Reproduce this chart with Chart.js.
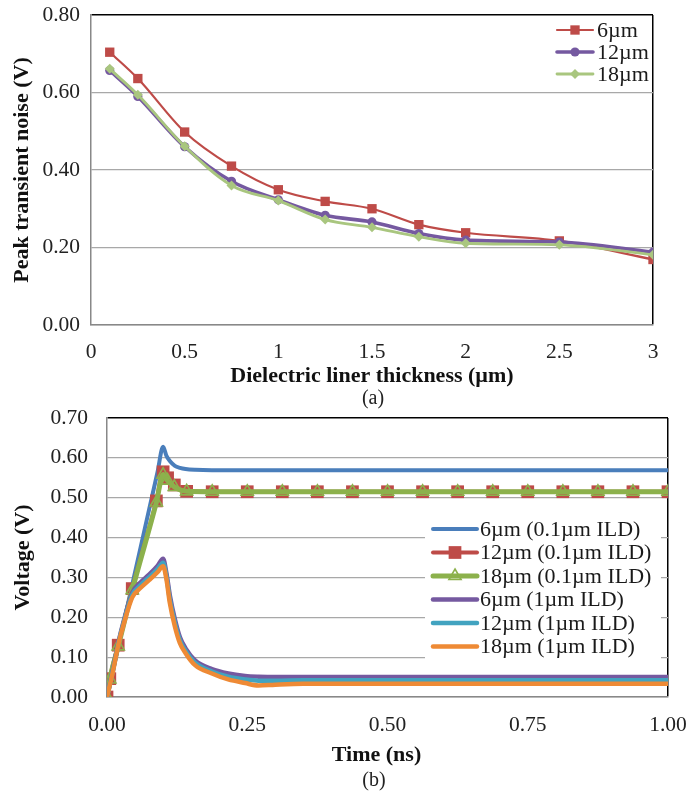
<!DOCTYPE html>
<html><head><meta charset="utf-8">
<script src="https://cdn.jsdelivr.net/npm/chart.js@4.4.1/dist/chart.umd.min.js"></script>
<style>
html,body{margin:0;padding:0;background:#fff;}
body{width:694px;height:794px;position:relative;overflow:hidden;font-family:"Liberation Serif","Times New Roman",serif;}
canvas{position:absolute;left:0;}
#c1{top:0}
#c2{top:400px}
.cap{position:absolute;font-size:20px;color:#222;width:100px;text-align:center;line-height:20px;}
</style></head><body>
<canvas id="c1" width="694" height="390"></canvas>
<canvas id="c2" width="694" height="370"></canvas>
<div class="cap" style="left:323px;top:387px">(a)</div>
<div class="cap" style="left:324px;top:769px">(b)</div>
<script>
// ---------- Chart (a) data ----------
const linerThickness = [0.1, 0.25, 0.5, 0.75, 1, 1.25, 1.5, 1.75, 2, 2.5, 3];
const noise6um  = [0.704, 0.636, 0.498, 0.410, 0.349, 0.319, 0.300, 0.259, 0.238, 0.217, 0.169];
const noise12um = [0.657, 0.590, 0.460, 0.371, 0.323, 0.283, 0.266, 0.236, 0.219, 0.214, 0.188];
const noise18um = [0.661, 0.594, 0.461, 0.360, 0.321, 0.272, 0.252, 0.228, 0.211, 0.207, 0.181];
const aXTicks = [0, 0.5, 1, 1.5, 2, 2.5, 3];
const aXTickLabels = ['0', '0.5', '1', '1.5', '2', '2.5', '3'];
const aYTicks = [0, 0.2, 0.4, 0.6, 0.8];
const aLabels = ['6µm', '12µm', '18µm'];

// ---------- Chart (b) data ----------
const markerTime = [0, 0.005, 0.02, 0.045, 0.088, 0.1, 0.108, 0.12, 0.142, 0.1875, 0.25, 0.3125, 0.375, 0.4375, 0.5, 0.5625, 0.625, 0.6875, 0.75, 0.8125, 0.875, 0.9375, 1.0];
const v12um_01 = [0, 0.046, 0.130, 0.272, 0.492, 0.565, 0.550, 0.532, 0.516, 0.515, 0.515, 0.515, 0.515, 0.515, 0.515, 0.515, 0.515, 0.515, 0.515, 0.515, 0.515, 0.515, 0.515];
const v18um_01 = [0, 0.044, 0.127, 0.268, 0.488, 0.558, 0.543, 0.527, 0.516, 0.515, 0.515, 0.515, 0.515, 0.515, 0.515, 0.515, 0.515, 0.515, 0.515, 0.515, 0.515, 0.515, 0.515];
const curveTime = [0, 0.01, 0.02, 0.03, 0.045, 0.06, 0.075, 0.09, 0.1, 0.106, 0.112, 0.121, 0.13, 0.14, 0.157, 0.187, 0.216, 0.246, 0.27, 0.3, 0.35, 0.5, 0.75, 1.0];
const v6um_01  = [0, 0.062, 0.125, 0.188, 0.282, 0.376, 0.470, 0.564, 0.628, 0.605, 0.592, 0.580, 0.575, 0.572, 0.570, 0.569, 0.569, 0.569, 0.569, 0.569, 0.569, 0.569, 0.569, 0.569];
const v6um_1   = [0, 0.065, 0.135, 0.192, 0.262, 0.288, 0.307, 0.329, 0.347, 0.310, 0.255, 0.195, 0.150, 0.122, 0.092, 0.070, 0.059, 0.053, 0.051, 0.050, 0.050, 0.050, 0.050, 0.050];
const v12um_1  = [0, 0.062, 0.132, 0.188, 0.256, 0.281, 0.300, 0.321, 0.337, 0.302, 0.245, 0.186, 0.142, 0.116, 0.086, 0.064, 0.051, 0.044, 0.041, 0.041, 0.042, 0.042, 0.042, 0.042];
const v18um_1  = [0, 0.060, 0.130, 0.184, 0.250, 0.274, 0.293, 0.313, 0.328, 0.295, 0.236, 0.177, 0.135, 0.110, 0.080, 0.059, 0.044, 0.035, 0.029, 0.031, 0.033, 0.033, 0.033, 0.033];
const bXTicks = [0, 0.25, 0.5, 0.75, 1.0];
const bYTicks = [0, 0.1, 0.2, 0.3, 0.4, 0.5, 0.6, 0.7];
const bLabels = ['6µm (0.1µm ILD)', '12µm (0.1µm ILD)', '18µm (0.1µm ILD)', '6µm (1µm ILD)', '12µm (1µm ILD)', '18µm (1µm ILD)'];

const FONT = '"Liberation Serif","Times New Roman",serif';
Chart.defaults.font.family = FONT;
Chart.defaults.color = '#222';

function pts(xs, ys) { return xs.map((x, i) => ({x: x, y: ys[i]})); }

function drawMarker(ctx, style, x, y, r, fill, stroke, bw) {
  ctx.beginPath();
  if (style === 'rect') { const s = r * Math.SQRT1_2; ctx.rect(x - s, y - s, 2 * s, 2 * s); }
  else if (style === 'circle') { ctx.arc(x, y, r, 0, Math.PI * 2); }
  else if (style === 'rectRot') { ctx.moveTo(x - r, y); ctx.lineTo(x, y - r); ctx.lineTo(x + r, y); ctx.lineTo(x, y + r); ctx.closePath(); }
  else if (style === 'triangle') {
    let a = 0;
    ctx.moveTo(x + Math.sin(a) * r, y - Math.cos(a) * r);
    a += 2 * Math.PI / 3; ctx.lineTo(x + Math.sin(a) * r, y - Math.cos(a) * r);
    a += 2 * Math.PI / 3; ctx.lineTo(x + Math.sin(a) * r, y - Math.cos(a) * r);
    ctx.closePath();
  }
  ctx.fillStyle = fill; ctx.fill();
  if (bw > 0) { ctx.lineWidth = bw; ctx.strokeStyle = stroke; ctx.stroke(); }
}

const customLegend = {
  id: 'customLegend',
  afterDraw(chart, args, o) {
    const ctx = chart.ctx;
    ctx.save();
    if (o.box) { ctx.fillStyle = '#fff'; ctx.fillRect(o.box[0], o.box[1], o.box[2], o.box[3]); }
    ctx.font = o.font;
    ctx.textBaseline = 'middle';
    ctx.textAlign = 'left';
    chart.data.datasets.forEach((ds, i) => {
      const y = o.y + i * o.dy;
      ctx.strokeStyle = ds.borderColor;
      ctx.lineWidth = ds.borderWidth;
      ctx.lineCap = 'round';
      ctx.beginPath(); ctx.moveTo(o.x, y); ctx.lineTo(o.x + o.len, y); ctx.stroke();
      if (ds.pointRadius > 0) drawMarker(ctx, ds.pointStyle, o.x + o.len / 2, y, ds.pointRadius, ds.pointBackgroundColor, ds.pointBorderColor, ds.pointBorderWidth);
      ctx.fillStyle = '#1a1a1a';
      ctx.fillText(ds.label, o.textX, y + 1);
    });
    ctx.restore();
  }
};

function near(a, b) { return Math.abs(a - b) < 1e-6; }
function noPadY(s, w) { s.width = w; s.paddingTop = 0; s.paddingBottom = 0; }
function noPadX(s, h) { s.height = h; s.paddingLeft = 0; s.paddingRight = 0; }

// ---------- Chart (a) ----------
new Chart(document.getElementById('c1'), {
  type: 'line',
  data: {
    datasets: [
      {label: aLabels[0], data: pts(linerThickness, noise6um), borderColor: '#BE4B48', borderWidth: 2.2,
       pointStyle: 'rect', pointRadius: 6.6, pointBackgroundColor: '#BE4B48', pointBorderColor: '#BE4B48', pointBorderWidth: 0, order: 3},
      {label: aLabels[1], data: pts(linerThickness, noise12um), borderColor: '#7559A0', borderWidth: 3.6,
       pointStyle: 'circle', pointRadius: 4.6, pointBackgroundColor: '#7559A0', pointBorderColor: '#7559A0', pointBorderWidth: 0, order: 2},
      {label: aLabels[2], data: pts(linerThickness, noise18um), borderColor: '#A9C67F', borderWidth: 2.8,
       pointStyle: 'rectRot', pointRadius: 5, pointBackgroundColor: '#A9C67F', pointBorderColor: '#A9C67F', pointBorderWidth: 0, order: 1}
    ]
  },
  options: {
    responsive: false, animation: false, events: [],
    layout: {padding: {left: 0, top: 15, right: 41, bottom: 0}},
    elements: {line: {cubicInterpolationMode: 'monotone'}},
    plugins: {legend: {display: false}, tooltip: {enabled: false},
      customLegend: {x: 557, len: 36, textX: 597, y: 30, dy: 22, font: '22px ' + FONT}},
    scales: {
      x: {type: 'linear', min: 0, max: 3,
        afterBuildTicks: s => { s.ticks = aXTicks.map(v => ({value: v})); },
        ticks: {padding: 14, color: '#222', font: {size: 21.5}, callback: (v, i) => aXTickLabels[i]},
        grid: {drawTicks: false, color: c => (c.tick && near(c.tick.value, 3)) ? '#000' : 'rgba(0,0,0,0)', lineWidth: 1.5},
        border: {color: '#888', width: 1.5},
        title: {display: true, text: 'Dielectric liner thickness (µm)', color: '#111', font: {size: 22, weight: 'bold'}, padding: {top: 0, bottom: 0}},
        afterFit: s => noPadX(s, 65)
      },
      y: {type: 'linear', min: 0, max: 0.8,
        afterBuildTicks: s => { s.ticks = aYTicks.map(v => ({value: v})); },
        ticks: {padding: 11, color: '#222', font: {size: 21.5}, callback: v => v.toFixed(2)},
        grid: {drawTicks: false, color: c => (c.tick && near(c.tick.value, 0.8)) ? '#000' : '#A8A8A8', lineWidth: c => (c.tick && near(c.tick.value, 0.8)) ? 1.5 : 1.2},
        border: {color: '#888', width: 1.5},
        title: {display: true, text: 'Peak transient noise (V)', color: '#111', font: {size: 22, weight: 'bold'}, padding: {top: 9, bottom: 0}},
        afterFit: s => noPadY(s, 91)
      }
    }
  },
  plugins: [customLegend]
});

// ---------- Chart (b) ----------
new Chart(document.getElementById('c2'), {
  type: 'line',
  data: {
    datasets: [
      {label: bLabels[0], data: pts(curveTime, v6um_01), borderColor: '#4A7EBB', borderWidth: 4, pointRadius: 0, order: 6},
      {label: bLabels[1], data: pts(markerTime, v12um_01), borderColor: '#BE4B48', borderWidth: 4,
       pointStyle: 'rect', pointRadius: 9, pointBackgroundColor: '#BE4B48', pointBorderColor: '#BE4B48', pointBorderWidth: 0, order: 5},
      {label: bLabels[2], data: pts(markerTime, v18um_01), borderColor: '#8CB14C', borderWidth: 5,
       pointStyle: 'triangle', pointRadius: 7, pointBackgroundColor: 'rgba(255,255,255,0)', pointBorderColor: '#8CB14C', pointBorderWidth: 1.6, order: 4},
      {label: bLabels[3], data: pts(curveTime, v6um_1), borderColor: '#7559A0', borderWidth: 4.5, pointRadius: 0, order: 3},
      {label: bLabels[4], data: pts(curveTime, v12um_1), borderColor: '#42A3C0', borderWidth: 4.5, pointRadius: 0, order: 2},
      {label: bLabels[5], data: pts(curveTime, v18um_1), borderColor: '#EE8A35', borderWidth: 4.5, pointRadius: 0, order: 1}
    ]
  },
  options: {
    responsive: false, animation: false, events: [],
    layout: {padding: {left: 0, top: 18, right: 26, bottom: 0}},
    elements: {line: {cubicInterpolationMode: 'monotone'}},
    plugins: {legend: {display: false}, tooltip: {enabled: false},
      customLegend: {box: [425, 112, 236, 149], x: 433, len: 44, textX: 480, y: 129, dy: 23.5, font: '22px ' + FONT}},
    scales: {
      x: {type: 'linear', min: 0, max: 1,
        afterBuildTicks: s => { s.ticks = bXTicks.map(v => ({value: v})); },
        ticks: {padding: 15, color: '#222', font: {size: 21.5}, callback: v => v.toFixed(2)},
        grid: {drawTicks: false, color: c => (c.tick && near(c.tick.value, 1)) ? '#000' : 'rgba(0,0,0,0)', lineWidth: 1.5},
        border: {color: '#888', width: 1.5},
        title: {display: true, text: 'Time (ns)\u00A0\u00A0\u00A0\u00A0', color: '#111', font: {size: 22, weight: 'bold'}, padding: {top: 0, bottom: 1}},
        afterFit: s => noPadX(s, 73)
      },
      y: {type: 'linear', min: 0, max: 0.7,
        afterBuildTicks: s => { s.ticks = bYTicks.map(v => ({value: v})); },
        ticks: {padding: 19, color: '#222', font: {size: 21.5}, callback: v => v.toFixed(2)},
        grid: {drawTicks: false, color: c => (c.tick && near(c.tick.value, 0.7)) ? '#000' : '#A8A8A8', lineWidth: c => (c.tick && near(c.tick.value, 0.7)) ? 1.5 : 1.2},
        border: {color: '#888', width: 1.5},
        title: {display: true, text: 'Voltage (V)', color: '#111', font: {size: 22, weight: 'bold'}, padding: {top: 10, bottom: 0}},
        afterFit: s => noPadY(s, 107)
      }
    }
  },
  plugins: [customLegend]
});
</script>
</body></html>
